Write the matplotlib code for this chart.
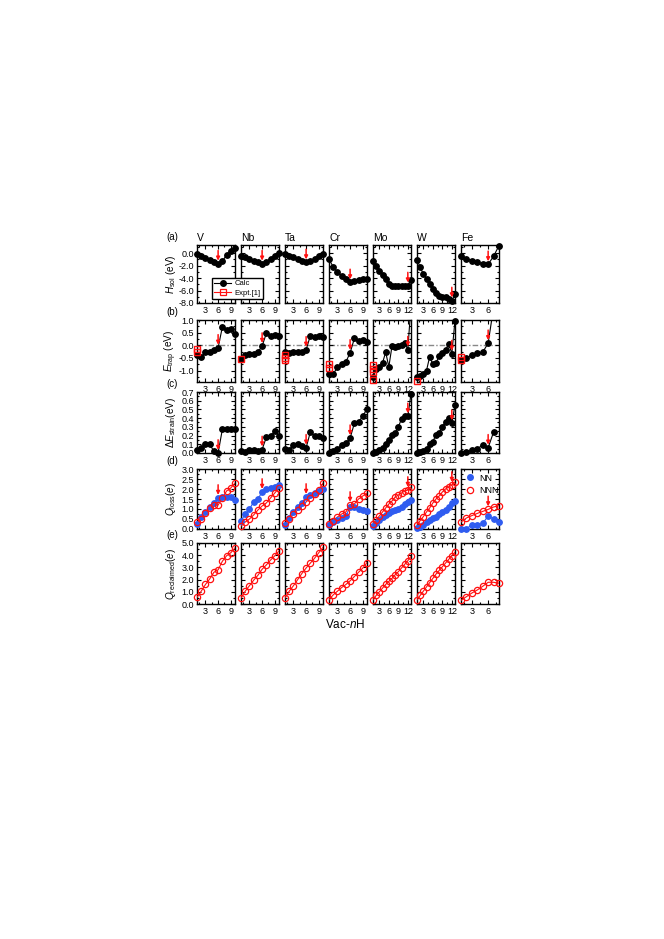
import numpy as np
import matplotlib
matplotlib.use('Agg')
import matplotlib.pyplot as plt
from matplotlib.lines import Line2D
from matplotlib.ticker import MultipleLocator

plt.rcParams['font.family'] = ['Liberation Sans', 'DejaVu Sans']
plt.rcParams['mathtext.fontset'] = 'custom'
plt.rcParams['mathtext.rm'] = 'Liberation Sans'
plt.rcParams['mathtext.it'] = 'Liberation Sans:italic'

elements = ['V', 'Nb', 'Ta', 'Cr', 'Mo', 'W', 'Fe']
arrow_n = [6, 6, 6, 6, 12, 12, 6]
xticks_el = [[3, 6, 9], [3, 6, 9], [3, 6, 9], [3, 6, 9], [3, 6, 9, 12], [3, 6, 9, 12], [3, 6]]
xmax_el = [10, 10, 10, 10, 13, 13, 8]

# (a) solution enthalpy, eV
hsol = [
    [-0.2, -0.5, -0.8, -1.1, -1.4, -1.7, -1.3, -0.3, 0.3, 0.8],
    [-0.4, -0.7, -1.0, -1.3, -1.5, -1.7, -1.4, -0.9, -0.4, 0.0],
    [-0.2, -0.4, -0.7, -1.0, -1.3, -1.5, -1.3, -0.9, -0.5, -0.2],
    [-1.0, -2.2, -3.0, -3.6, -4.1, -4.7, -4.5, -4.3, -4.2, -4.1],
    [-1.2, -2.1, -2.9, -3.5, -4.1, -5.0, -5.2, -5.3, -5.3, -5.3, -5.2, -5.2, -4.3],
    [-1.1, -2.2, -3.4, -4.2, -5.0, -5.8, -6.4, -6.8, -7.0, -7.1, -7.3, -7.6, -6.6],
    [-0.5, -0.9, -1.2, -1.5, -1.7, -1.8, -0.5, 1.2],
]

# (b) trapping energy, eV
etrap = [
    [-0.38, -0.45, -0.27, -0.25, -0.18, -0.1, 0.72, 0.6, 0.65, 0.43],
    [-0.55, -0.4, -0.35, -0.33, -0.27, -0.03, 0.47, 0.38, 0.4, 0.36],
    [-0.25, -0.3, -0.27, -0.28, -0.25, -0.18, 0.38, 0.33, 0.35, 0.32],
    [-1.12, -1.15, -0.85, -0.75, -0.65, -0.3, 0.27, 0.16, 0.22, 0.12],
    [-1.27, -0.95, -0.85, -0.7, -0.27, -0.85, -0.03, -0.05, -0.03, 0.02, 0.1, -0.17, 1.6],
    [-1.25, -1.22, -1.12, -1.0, -0.45, -0.75, -0.7, -0.42, -0.3, -0.2, 0.07, -0.33, 0.98],
    [-0.58, -0.52, -0.38, -0.32, -0.27, 0.08, 1.5, 2.0],
]
expt_trap = [
    [-0.15, -0.28],
    [-0.55],
    [-0.38, -0.5, -0.6],
    [-0.72, -0.9],
    [-0.78, -0.92, -1.05, -1.38],
    [-1.4],
    [-0.45, -0.6],
]

# (c) strain energy, eV
estrain = [
    [0.04, 0.06, 0.1, 0.1, 0.02, 0.0, 0.27, 0.27, 0.28, 0.28],
    [0.02, 0.01, 0.04, 0.04, 0.02, 0.04, 0.18, 0.19, 0.25, 0.19],
    [0.05, 0.04, 0.09, 0.1, 0.08, 0.06, 0.24, 0.2, 0.2, 0.17],
    [0.0, 0.02, 0.05, 0.09, 0.11, 0.17, 0.34, 0.36, 0.42, 0.51],
    [0.0, 0.01, 0.03, 0.06, 0.1, 0.15, 0.21, 0.23, 0.3, 0.39, 0.43, 0.42, 0.68],
    [0.0, 0.01, 0.02, 0.05, 0.1, 0.13, 0.21, 0.23, 0.3, 0.36, 0.4, 0.34, 0.55],
    [0.0, 0.01, 0.03, 0.05, 0.09, 0.06, 0.24],
]

# (d) charge loss, e
qloss_nn = [
    [0.25, 0.6, 0.85, 1.1, 1.3, 1.55, 1.6, 1.62, 1.6, 1.45],
    [0.4, 0.75, 1.0, 1.35, 1.5, 1.85, 2.0, 2.05, 2.1, 2.2],
    [0.2, 0.55, 0.85, 1.1, 1.3, 1.6, 1.7, 1.8, 1.9, 2.0],
    [0.2, 0.35, 0.45, 0.55, 0.65, 1.1, 1.1, 1.0, 0.95, 0.9],
    [0.15, 0.3, 0.45, 0.6, 0.7, 0.8, 0.9, 0.95, 1.0, 1.1, 1.25, 1.35, 1.45],
    [0.05, 0.12, 0.2, 0.33, 0.45, 0.55, 0.62, 0.75, 0.85, 0.95, 1.1, 1.3, 1.42],
    [0.02, 0.02, 0.2, 0.2, 0.28, 0.65, 0.5, 0.33],
]
qloss_nnn = [
    [0.35, 0.5, 0.8, 1.05, 1.2, 1.2, 1.55, 1.9, 2.05, 2.3],
    [0.15, 0.35, 0.5, 0.7, 0.95, 1.15, 1.3, 1.55, 1.8, 2.05],
    [0.3, 0.5, 0.75, 0.95, 1.15, 1.35, 1.55, 1.75, 1.95, 2.3],
    [0.25, 0.4, 0.6, 0.75, 0.85, 1.2, 1.25, 1.5, 1.65, 1.8],
    [0.25, 0.45, 0.65, 0.85, 1.05, 1.25, 1.4, 1.6, 1.7, 1.8, 1.9, 1.95, 2.1],
    [0.22, 0.42, 0.62, 0.85, 1.05, 1.3, 1.5, 1.65, 1.85, 2.0, 2.1, 2.2, 2.35],
    [0.35, 0.55, 0.67, 0.78, 0.88, 0.98, 1.1, 1.17],
]

# (e) reclaimed charge, e
qrecl = [
    [0.55, 1.05, 1.6, 2.05, 2.6, 2.8, 3.5, 3.95, 4.2, 4.6],
    [0.5, 1.05, 1.5, 1.95, 2.35, 2.85, 3.2, 3.6, 3.95, 4.35],
    [0.5, 1.05, 1.5, 2.0, 2.5, 2.95, 3.35, 3.75, 4.2, 4.65],
    [0.35, 0.75, 1.05, 1.35, 1.6, 1.9, 2.25, 2.6, 2.95, 3.4],
    [0.35, 0.7, 1.0, 1.3, 1.6, 1.85, 2.1, 2.4, 2.65, 2.95, 3.25, 3.55, 3.9],
    [0.35, 0.7, 1.05, 1.4, 1.75, 2.1, 2.45, 2.75, 3.05, 3.35, 3.65, 3.95, 4.25],
    [0.3, 0.6, 0.9, 1.15, 1.45, 1.78, 1.78, 1.7],
]

row_ylim = [(-8.0, 1.3), (-1.45, 1.0), (0.0, 0.7), (0.0, 3.0), (0.0, 5.0)]
row_major = [2.0, 0.5, 0.1, 0.5, 1.0]
row_minor = [1.0, 0.25, 0.05, 0.25, 0.5]
row_tags = ['(a)', '(b)', '(c)', '(d)', '(e)']
row_labels = [r'$H_{\rm sol}$ (eV)', r'$E_{\rm trap}$ (eV)', r'$\Delta E_{\rm strain}$(eV)',
              r'$Q_{\rm loss}$($e$)', r'$Q_{\rm reclaimed}$($e$)']

W, H = 664, 939
col_left = [197, 241, 285, 329, 373, 417, 461]
col_w = 38
row_tb = [(245, 303), (320, 382), (392, 453), (469, 529), (543, 604)]

RED = '#ff1010'
BLUE = '#2f5cf0'


def series(ax, y, ylim, color, mfc, marker='o', ms=4.0, mew=0.9, lw=0.8):
    x = np.arange(1, len(y) + 1)
    y = np.array(y)
    ax.plot(x, y, '-', color=color, lw=lw, zorder=3)
    m = (y >= ylim[0] - 1e-9) & (y <= ylim[1] + 1e-9)
    ax.plot(x[m], y[m], ls='none', marker=marker, ms=ms, mfc=mfc, mec=color,
            mew=mew, clip_on=False, zorder=4)


def arrow(ax, n, y):
    ax.annotate('', xy=(n, y), xytext=(0, 9.5), textcoords='offset points',
                arrowprops=dict(arrowstyle='-|>', color=RED, lw=1.1,
                                shrinkA=0, shrinkB=2.2, mutation_scale=5),
                zorder=6, annotation_clip=False)


fig = plt.figure(figsize=(W / 100, H / 100), dpi=100)

for r in range(5):
    top, bot = row_tb[r]
    ylim = row_ylim[r]
    for c, el in enumerate(elements):
        ax = fig.add_axes([col_left[c] / W, 1 - bot / H, col_w / W, (bot - top) / H])
        ax.set_xlim(1, xmax_el[c])
        ax.set_ylim(*ylim)
        ax.set_xticks(xticks_el[c])
        ax.xaxis.set_minor_locator(MultipleLocator(1.5))
        ax.yaxis.set_major_locator(MultipleLocator(row_major[r]))
        ax.yaxis.set_minor_locator(MultipleLocator(row_minor[r]))
        ax.tick_params(which='both', direction='in', top=True, right=True,
                       labelsize=6.5, pad=2, width=0.8)
        ax.tick_params(which='major', length=3)
        ax.tick_params(which='minor', length=1.5)
        for s in ax.spines.values():
            s.set_linewidth(1.0)
        if c == 0:
            ax.yaxis.set_major_formatter(matplotlib.ticker.FormatStrFormatter('%.1f'))
        else:
            ax.set_yticklabels([])

        n = arrow_n[c]
        if r == 0:
            series(ax, hsol[c], ylim, 'black', 'black')
            arrow(ax, n, hsol[c][n - 1])
            fig.text(col_left[c] / W, 1 - (top - 2) / H, el, fontsize=7.5,
                     ha='left', va='bottom')
        elif r == 1:
            ax.axhline(0, color='#888888', lw=1.0, ls=(0, (4, 1.5, 1, 1.5)), zorder=1)
            series(ax, etrap[c], ylim, 'black', 'black')
            for v in expt_trap[c]:
                ax.plot([1], [v], ls='none', marker='s', ms=5, mfc='none', mec=RED,
                        mew=1.0, clip_on=False, zorder=5)
            arrow(ax, n, etrap[c][n - 1])
        elif r == 2:
            series(ax, estrain[c], ylim, 'black', 'black')
            arrow(ax, n, estrain[c][n - 1])
        elif r == 3:
            series(ax, qloss_nn[c], ylim, BLUE, BLUE)
            series(ax, qloss_nnn[c], ylim, RED, 'none', ms=4.5, mew=0.9)
            arrow(ax, n, max(qloss_nn[c][n - 1], qloss_nnn[c][n - 1]))
            if el == 'Fe':
                hs = [Line2D([], [], ls='none', marker='o', ms=4.0, color=BLUE),
                      Line2D([], [], ls='none', marker='o', ms=4.5, mfc='none',
                             mec=RED, mew=0.9)]
                ax.legend(hs, ['NN', 'NNN'], loc='upper left', frameon=False,
                          fontsize=6.5, handlelength=0.8, handletextpad=0.6,
                          borderaxespad=0.1, labelspacing=0.35,
                          bbox_to_anchor=(0.02, 1.0))
        else:
            series(ax, qrecl[c], ylim, RED, 'none', ms=4.5, mew=0.9)

    fig.text(166 / W, 1 - (top - 3) / H, row_tags[r], fontsize=7, ha='left', va='bottom')
    fig.text(171 / W, 1 - (top + bot) / 2 / H, row_labels[r], fontsize=7.2,
             rotation=90, ha='center', va='center')

# legend of panel (a)
hs = [Line2D([], [], color='black', lw=0.8, marker='o', ms=4.0),
      Line2D([], [], color=RED, lw=0.8, marker='s', ms=4.0, mfc='none', mew=0.9)]
fig.legend(hs, ['Calc', 'Expt.[1]'], loc='upper left',
           bbox_to_anchor=(208 / W, 1 - 274 / H), fontsize=5.5, frameon=True,
           fancybox=False, edgecolor='black', framealpha=1, handlelength=2.2,
           borderpad=0.3, labelspacing=0.3, handletextpad=0.5)

fig.text(345 / W, 1 - 624 / H, r'Vac-$n$H', fontsize=8.5, ha='center', va='center')

fig.savefig('out.png', dpi=100)
